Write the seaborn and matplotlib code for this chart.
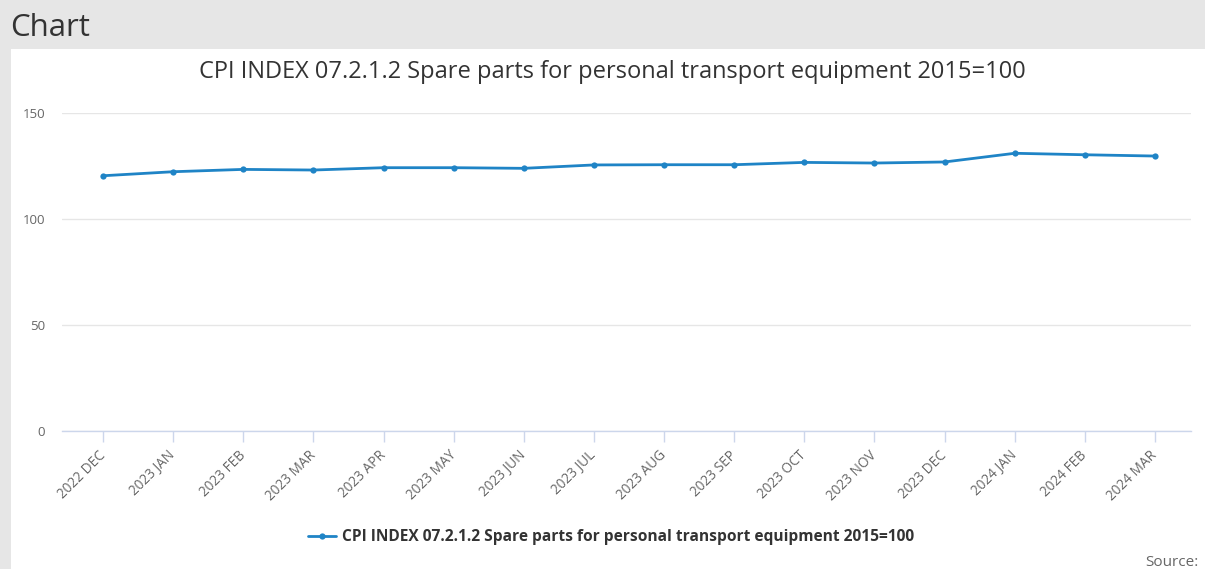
import matplotlib
matplotlib.use("Agg")
import matplotlib.pyplot as plt
from matplotlib.patches import Rectangle
import seaborn as sns
import pandas as pd

months = ["2022 DEC", "2023 JAN", "2023 FEB", "2023 MAR", "2023 APR", "2023 MAY",
          "2023 JUN", "2023 JUL", "2023 AUG", "2023 SEP", "2023 OCT", "2023 NOV",
          "2023 DEC", "2024 JAN", "2024 FEB", "2024 MAR"]
values = [120.4, 122.3, 123.4, 123.1, 124.2, 124.2, 123.9, 125.5, 125.6, 125.6,
          126.7, 126.4, 126.9, 131.0, 130.3, 129.7]
y_ticks = [0, 50, 100, 150]
series_name = "CPI INDEX 07.2.1.2 Spare parts for personal transport equipment 2015=100"

sns.set_theme(style="white")
plt.rcParams['font.family'] = ['Open Sans', 'DejaVu Sans']

W, H = 1205, 569
fig = plt.figure(figsize=(W / 100, H / 100), dpi=100)
fig.patch.set_facecolor("#e6e6e6")
fig.patches.append(Rectangle((11 / W, 0), 1 - 11 / W, 1 - 49 / H, transform=fig.transFigure,
                             facecolor="white", edgecolor="none", zorder=-10))

fig.text(10 / W, 1 - 28 / H, "Chart", fontsize=22.5, color="#333333", va="center", ha="left")

left, right = 62, 1191
bottom, top = 431, 113
ax = fig.add_axes([left / W, 1 - bottom / H, (right - left) / W, (bottom - top) / H])
ax.set_facecolor("none")
ax.set_zorder(5)

df = pd.DataFrame({"pos": list(range(len(months))), "value": values, "series": series_name})
color = "#1f84c6"
sns.lineplot(data=df, x="pos", y="value", hue="series", palette=[color], ax=ax,
             linewidth=2.0, marker="o", markersize=4.5, markeredgewidth=0, legend=True)

ax.set_ylim(0, 150)
step = (1155 - 103) / (len(months) - 1)
x0 = -(103 - left) / step
ax.set_xlim(x0, x0 + (right - left) / step)

ax.set_yticks(y_ticks)
ax.set_yticklabels([str(v) for v in y_ticks])
ax.set_xticks(list(range(len(months))))
ax.set_xticklabels(months, rotation=45, ha="right", va="center", rotation_mode="anchor")

ax.grid(axis="y", color="#e6e6e6", linewidth=1)
ax.grid(axis="x", visible=False)
for s in ["top", "right", "left"]:
    ax.spines[s].set_visible(False)
ax.spines["bottom"].set_color("#ccd6eb")
ax.spines["bottom"].set_linewidth(1)
ax.tick_params(axis="x", colors="#ccd6eb", length=8, width=1, direction="out", pad=8,
               labelcolor="#666666", labelsize=9.8, bottom=True)
ax.tick_params(axis="y", length=0, pad=12, labelcolor="#666666", labelsize=9.5)
ax.set_xlabel("")
ax.set_ylabel("")

fig.text(612 / W, 1 - 72 / H, series_name, fontsize=17, color="#333333", ha="center", va="center")

handles, labels = ax.get_legend_handles_labels()
if ax.legend_:
    ax.legend_.remove()
leg = fig.legend(handles, labels, loc="center", bbox_to_anchor=(611 / W, 1 - 537 / H),
                 frameon=False, prop={"weight": "bold", "size": 11.2}, handlelength=1.8,
                 handletextpad=0.4)
for t in leg.get_texts():
    t.set_color("#333333")

fig.text(1198 / W, 1 - 563 / H, "Source:", fontsize=11, color="#666666", ha="right", va="center")

fig.savefig("out.png", dpi=100, facecolor=fig.get_facecolor())
